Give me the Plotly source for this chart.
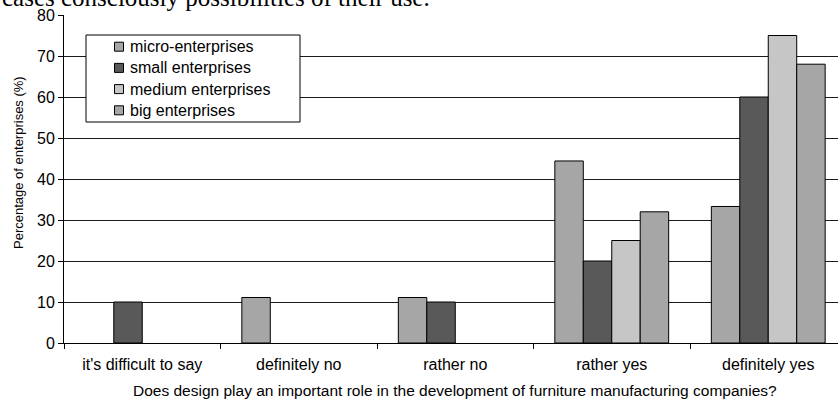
import plotly.graph_objects as go

# Survey answers on the x axis
answers = ["it's difficult to say", "definitely no", "rather no", "rather yes", "definitely yes"]

# Share of enterprises (%) giving each answer, by company size
micro = [0, 11.1, 11.1, 44.4, 33.3]
small = [10, 0, 10, 20, 60]
medium = [0, 0, 0, 25, 75]
big = [0, 0, 0, 32, 68]

series_names = ["micro-enterprises", "small enterprises", "medium enterprises", "big enterprises"]
series_values = [micro, small, medium, big]
series_colors = ["#a6a6a6", "#595959", "#c6c6c6", "#a6a6a6"]

y_ticks = [0, 10, 20, 30, 40, 50, 60, 70, 80]

FONT = "Arial, 'Liberation Sans', sans-serif"

W, H = 838, 405
L, T, B = 64, 15, 62
plot_w = W - L
plot_h = H - T - B
cat_px = 156.5  # width of one answer category in px


def px_x(px):
    """Pixel column -> paper x."""
    return (px - L) / plot_w


def px_y(py):
    """Pixel row (from top) -> paper y."""
    return (H - B - py) / plot_h


fig = go.Figure()
for name, vals, col in zip(series_names, series_values, series_colors):
    fig.add_trace(go.Bar(
        name=name, x=answers, y=vals,
        marker=dict(color=col,
                    line=dict(color="#000000", width=[1 if v else 0 for v in vals])),
        showlegend=False,
    ))

# Legend box drawn in the upper-left corner of the plot area
shapes = [dict(type="rect", xref="paper", yref="paper",
               x0=px_x(86), x1=px_x(300), y0=px_y(122), y1=px_y(35),
               line=dict(color="#000000", width=1), fillcolor="white", layer="above")]
annotations = []
row_y = [46.7, 67.9, 89.1, 110.3]
for name, col, ry in zip(series_names, series_colors, row_y):
    shapes.append(dict(type="rect", xref="paper", yref="paper",
                       x0=px_x(114.5), x1=px_x(123.5), y0=px_y(ry + 4.5), y1=px_y(ry - 4.5),
                       line=dict(color="#000000", width=1), fillcolor=col, layer="above"))
    annotations.append(dict(text=name, xref="paper", yref="paper",
                            x=px_x(128), y=px_y(ry), xanchor="left", yanchor="middle",
                            showarrow=False, font=dict(family=FONT, size=16, color="#000000")))

fig.update_layout(
    width=W, height=H,
    margin=dict(l=L, r=0, t=T, b=B, pad=0),
    paper_bgcolor="white", plot_bgcolor="white",
    barmode="group", bargap=0.2727, bargroupgap=0,
    font=dict(family=FONT, size=16, color="#000000"),
    showlegend=False,
    xaxis=dict(
        type="category",
        range=[-0.5, -0.5 + plot_w / cat_px],
        showline=True, linecolor="#000000", linewidth=1,
        ticks="outside", tickson="boundaries", ticklen=5, tickcolor="#000000",
        ticklabelstandoff=7,
        showgrid=False, zeroline=False,
        tickfont=dict(family=FONT, size=16),
    ),
    yaxis=dict(
        range=[0, 80], tickvals=y_ticks,
        showline=True, linecolor="#000000", linewidth=1,
        ticks="outside", ticklen=5, tickcolor="#000000",
        showgrid=True, gridcolor="#1a1a1a", gridwidth=1,
        zeroline=False,
        tickfont=dict(family=FONT, size=16),
    ),
    shapes=shapes,
    annotations=annotations,
)

# y axis title
fig.add_annotation(
    text="Percentage of enterprises (%)",
    xref="paper", yref="paper", x=px_x(18.5), y=px_y(162.5),
    xanchor="center", yanchor="middle", textangle=-90, showarrow=False,
    font=dict(family=FONT, size=13, color="#000000"),
)

# x axis title, centred on the middle answer category
fig.add_annotation(
    text="Does design play an important role in the development of furniture manufacturing companies?",
    xref="x", yref="paper", x=2, y=px_y(391),
    xanchor="center", yanchor="middle", showarrow=False,
    font=dict(family=FONT, size=15.5, color="#000000"),
)

# trailing line of the surrounding text above the chart
fig.add_annotation(
    text="cases consciously possibilities of their use.",
    xref="paper", yref="paper", x=px_x(432), y=px_y(13.5),
    xanchor="right", yanchor="bottom", showarrow=False,
    font=dict(family="'Liberation Serif', 'Times New Roman', serif", size=25, color="#000000"),
)

fig.write_html("out.html")
